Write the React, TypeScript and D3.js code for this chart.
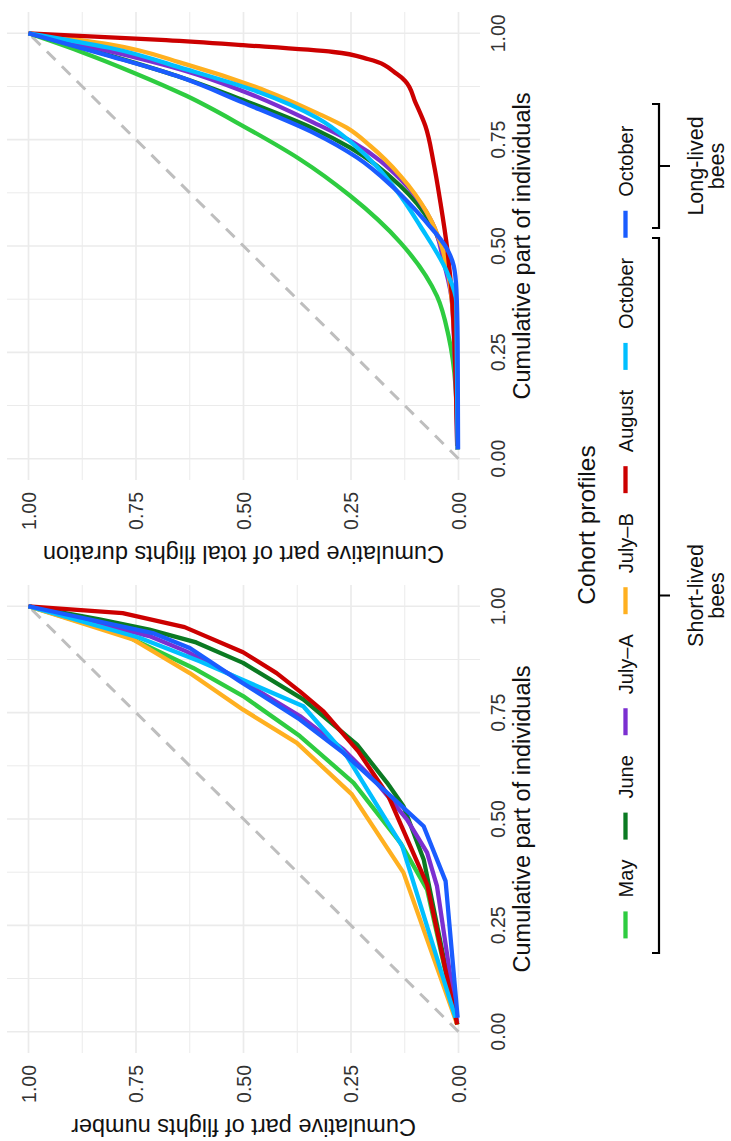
import React, { useEffect, useRef } from 'react';
import * as d3 from 'd3';

type Pt = [number, number];

// figure is laid out unrotated (1141 x 731) and then turned -90deg into the 731 x 1141 page
const FIG_W = 1141;
const FIG_H = 731;
const FONT = "'Liberation Sans', Arial, Helvetica, sans-serif";

const COHORTS = ["May", "June", "July–A", "July–B", "August", "October", "October"];
const COLORS = ["#2ECC40", "#0B7A22", "#7B2FD1", "#FFB020", "#CC0000", "#00BFFF", "#1A5CFF"];

const TICKS = [0, 0.25, 0.5, 0.75, 1];
const MINOR = [0.125, 0.375, 0.625, 0.875];
const TICK_LABELS = ["0.00", "0.25", "0.50", "0.75", "1.00"];

// cumulative part of flights number  [individuals, flights]
const numMay: Pt[] = [[0.017, 0.003], [0.334, 0.073], [0.444, 0.135], [0.585, 0.244], [0.695, 0.369], [0.789, 0.501], [0.855, 0.617], [0.930, 0.773], [1, 1]];
const numJune: Pt[] = [[0.017, 0.003], [0.405, 0.081], [0.530, 0.128], [0.585, 0.166], [0.675, 0.236], [0.781, 0.361], [0.867, 0.501], [0.915, 0.610], [0.945, 0.719], [0.969, 0.835], [1, 1]];
const numJulyA: Pt[] = [[0.021, 0.003], [0.342, 0.050], [0.421, 0.073], [0.499, 0.120], [0.585, 0.190], [0.663, 0.267], [0.742, 0.369], [0.828, 0.509], [0.894, 0.633], [0.930, 0.719], [1, 1]];
const numJulyB: Pt[] = [[0.017, 0.003], [0.374, 0.128], [0.558, 0.248], [0.679, 0.376], [0.757, 0.501], [0.843, 0.625], [0.922, 0.757], [1, 1]];
const numAugust: Pt[] = [[0.017, 0.003], [0.346, 0.073], [0.554, 0.163], [0.659, 0.233], [0.753, 0.314], [0.800, 0.369], [0.843, 0.423], [0.892, 0.501], [0.951, 0.637], [0.984, 0.781], [1, 1]];
const numOctShort: Pt[] = [[0.033, 0.007], [0.436, 0.131], [0.648, 0.260], [0.765, 0.361], [0.871, 0.602], [0.926, 0.742], [1, 1]];
const numOctLong: Pt[] = [[0.033, 0.002], [0.354, 0.030], [0.483, 0.081], [0.569, 0.174], [0.655, 0.267], [0.734, 0.369], [0.824, 0.509], [0.902, 0.625], [0.937, 0.711], [1, 1]];

// cumulative part of total flights duration
const durMay: Pt[] = [[0.022, 0.002], [0.171, 0.007], [0.288, 0.023], [0.382, 0.050], [0.508, 0.135], [0.618, 0.252], [0.704, 0.369], [0.782, 0.501], [0.853, 0.633], [0.908, 0.757], [0.955, 0.874], [1, 1]];
const durJune: Pt[] = [[0.022, 0.002], [0.312, 0.009], [0.445, 0.026], [0.555, 0.065], [0.641, 0.135], [0.731, 0.252], [0.776, 0.337], [0.843, 0.501], [0.900, 0.656], [0.948, 0.812], [1, 1]];
const durJulyA: Pt[] = [[0.022, 0.003], [0.367, 0.015], [0.461, 0.034], [0.555, 0.061], [0.657, 0.135], [0.743, 0.244], [0.790, 0.337], [0.864, 0.501], [0.911, 0.633], [0.958, 0.812], [1, 1]];
const durJulyB: Pt[] = [[0.022, 0.002], [0.312, 0.011], [0.429, 0.023], [0.508, 0.042], [0.578, 0.073], [0.665, 0.135], [0.735, 0.205], [0.778, 0.260], [0.813, 0.330], [0.864, 0.446], [0.927, 0.633], [0.974, 0.812], [1, 1]];
const durAugust: Pt[] = [[0.030, 0.003], [0.375, 0.015], [0.492, 0.026], [0.602, 0.042], [0.696, 0.058], [0.782, 0.077], [0.837, 0.100], [0.888, 0.124], [0.904, 0.143], [0.939, 0.209], [0.956, 0.291], [0.972, 0.501], [0.984, 0.680], [1, 1]];
const durOctShort: Pt[] = [[0.022, 0.002], [0.367, 0.005], [0.437, 0.026], [0.547, 0.089], [0.629, 0.143], [0.739, 0.244], [0.802, 0.330], [0.861, 0.462], [0.915, 0.633], [0.966, 0.812], [1, 1]];
const durOctLong: Pt[] = [[0.022, 0.001], [0.273, 0.002], [0.398, 0.005], [0.453, 0.011], [0.492, 0.026], [0.563, 0.081], [0.637, 0.151], [0.708, 0.236], [0.766, 0.337], [0.837, 0.501], [0.900, 0.656], [0.947, 0.812], [1, 1]];

const PANELS = [
  { x0: 88, yTitle: "Cumulative part of flights number", curve: d3.curveLinear,
    series: [numMay, numJune, numJulyA, numJulyB, numAugust, numOctShort, numOctLong] },
  { x0: 661, yTitle: "Cumulative part of total flights duration", curve: d3.curveMonotoneX,
    series: [durMay, durJune, durJulyA, durJulyB, durAugust, durOctShort, durOctLong] },
];
const X_TITLE = "Cumulative part of individuals";

const GROUP_LABELS = [["Short-lived", "bees"], ["Long-lived", "bees"]];

// layout (unrotated coords)
const PANEL_W = 468;
const PANEL_TOP = 7;
const PANEL_BOTTOM = 480;
const BRACKETS = [{ a: 188, b: 903 }, { a: 913, b: 1037 }];

export default function App() {
  const svgRef = useRef<SVGSVGElement>(null);

  useEffect(() => {
    if (!svgRef.current) return;
    const svg = d3.select(svgRef.current);
    svg.selectAll("*").remove();

    const root = svg.append("g")
      .attr("transform", `translate(0,${FIG_W}) rotate(-90)`)
      .style("font-family", FONT);

    root.append("rect").attr("width", FIG_W).attr("height", FIG_H).attr("fill", "#fff");

    PANELS.forEach(p => {
      const x = d3.scaleLinear().domain([-0.05, 1.05]).range([p.x0, p.x0 + PANEL_W]);
      const y = d3.scaleLinear().domain([-0.05, 1.05]).range([PANEL_BOTTOM, PANEL_TOP]);
      const g = root.append("g");

      // grid
      const grid = (vals: number[], w: number) => {
        vals.forEach(v => {
          g.append("line")
            .attr("x1", x(v)).attr("x2", x(v))
            .attr("y1", PANEL_TOP).attr("y2", PANEL_BOTTOM)
            .attr("stroke", "#EBEBEB").attr("stroke-width", w);
          g.append("line")
            .attr("x1", p.x0).attr("x2", p.x0 + PANEL_W)
            .attr("y1", y(v)).attr("y2", y(v))
            .attr("stroke", "#EBEBEB").attr("stroke-width", w);
        });
      };
      grid(MINOR, 1);
      grid(TICKS, 1.7);

      // equality line
      g.append("line")
        .attr("x1", x(0)).attr("y1", y(0))
        .attr("x2", x(1)).attr("y2", y(1))
        .attr("stroke", "#BEBEBE")
        .attr("stroke-width", 3)
        .attr("stroke-dasharray", "12,9");

      const line = d3.line<Pt>().x(d => x(d[0])).y(d => y(d[1])).curve(p.curve);
      p.series.forEach((s, i) => {
        g.append("path")
          .attr("d", line(s))
          .attr("fill", "none")
          .attr("stroke", COLORS[i])
          .attr("stroke-width", 4.3)
          .attr("stroke-linejoin", "round");
      });

      // axis text
      TICKS.forEach((v, i) => {
        g.append("text")
          .attr("x", x(v)).attr("y", 505)
          .attr("text-anchor", "middle")
          .attr("fill", "#333")
          .style("font-size", "19.5px")
          .text(TICK_LABELS[i]);
        g.append("text")
          .attr("x", p.x0 - 12).attr("y", y(v))
          .attr("dy", "0.36em")
          .attr("text-anchor", "end")
          .attr("fill", "#333")
          .style("font-size", "19.5px")
          .text(TICK_LABELS[i]);
      });

      g.append("text")
        .attr("x", p.x0 + PANEL_W / 2).attr("y", 530)
        .attr("text-anchor", "middle")
        .attr("fill", "#111")
        .style("font-size", "23.5px")
        .text(X_TITLE);

      g.append("text")
        .attr("transform", `translate(${p.x0 - 66},${(PANEL_TOP + PANEL_BOTTOM) / 2}) rotate(-90)`)
        .attr("text-anchor", "middle")
        .attr("fill", "#111")
        .style("font-size", "23.5px")
        .text(p.yTitle);
    });

    // legend
    const lg = root.append("g");
    lg.append("text")
      .attr("x", 616).attr("y", 595)
      .attr("text-anchor", "middle")
      .attr("fill", "#111")
      .style("font-size", "24.5px")
      .text("Cohort profiles");

    const KEY_W = 27, KEY_GAP = 14, ITEM_GAP = 20;
    const labels = COHORTS.map(c => lg.append("text")
      .attr("y", 633)
      .attr("fill", "#111")
      .style("font-size", "20px")
      .text(c));
    const widths = labels.map(l => (l.node() as SVGTextElement).getComputedTextLength());
    const total = d3.sum(widths) + COHORTS.length * (KEY_W + KEY_GAP) + (COHORTS.length - 1) * ITEM_GAP;
    let cx = 609 - total / 2;
    COHORTS.forEach((c, i) => {
      lg.append("line")
        .attr("x1", cx).attr("x2", cx + KEY_W)
        .attr("y1", 625.5).attr("y2", 625.5)
        .attr("stroke", COLORS[i]).attr("stroke-width", 4.3);
      labels[i].attr("x", cx + KEY_W + KEY_GAP);
      cx += KEY_W + KEY_GAP + widths[i] + ITEM_GAP;
    });

    // brackets for lifespan groups
    BRACKETS.forEach((b, i) => {
      const mid = (b.a + b.b) / 2;
      lg.append("path")
        .attr("d", `M${b.a},652V659H${b.b}V652M${mid},659V670`)
        .attr("fill", "none")
        .attr("stroke", "#000")
        .attr("stroke-width", 2.2);
      GROUP_LABELS[i].forEach((t, j) => {
        lg.append("text")
          .attr("x", mid).attr("y", 703 + j * 20.5)
          .attr("text-anchor", "middle")
          .attr("fill", "#111")
          .style("font-size", "21.5px")
          .text(t);
      });
    });
  }, []);

  return (
    <svg
      ref={svgRef}
      width={FIG_H}
      height={FIG_W}
      style={{ position: 'absolute', left: 0, top: 0, display: 'block' }}
    />
  );
}
